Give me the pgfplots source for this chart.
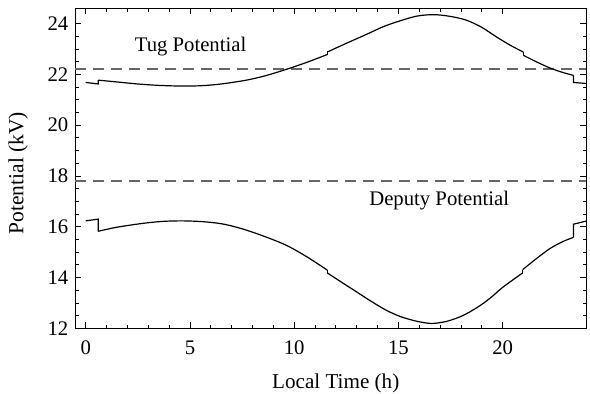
\documentclass[border=0pt]{standalone}
\usepackage{pgfplots}
\pgfplotsset{compat=1.18}
\usepackage{fontspec}
\setmainfont{Liberation Serif}
\definecolor{dashgray}{gray}{0.4}
\begin{document}
\begin{tikzpicture}
\begin{axis}[
  scale only axis, width=255.35bp, height=160bp,
  xmin=-0.5, xmax=24, ymin=12, ymax=24.6,
  xtick={0,5,10,15,20}, ytick={12,14,16,18,20,22,24},
  minor x tick num=4, minor y tick num=3,
  tick align=inside, xtick pos=both, ytick pos=both,
  xticklabel pos=lower, yticklabel pos=left,
  major tick length=3bp, minor tick length=1.7bp,
  axis line style={line width=0.5bp},
  tick style={black, line width=0.4bp},
  font=\fontsize{10.4}{12.5}\selectfont,
  /pgf/number format/assume math mode=true,
  xticklabel style={yshift=-2.8bp},
  xlabel={Local Time (h)}, ylabel={Potential (kV)},
  xlabel style={at={(axis description cs:0.51,-0.171)}, anchor=center, font=\fontsize{10.6}{12.5}\selectfont},
  ylabel style={at={(axis description cs:-0.112,0.485)}, anchor=center, font=\fontsize{10.8}{12.5}\selectfont},
  clip=false,
]
\coordinate (sw) at (rel axis cs:0,0);
\addplot[dashgray, line width=0.85bp, dash pattern=on 5.5bp off 3.5bp] coordinates {(-0.5,22.2) (24,22.2)};
\addplot[dashgray, line width=0.85bp, dash pattern=on 5.5bp off 3.5bp] coordinates {(-0.5,17.8) (24,17.8)};
% Tug
\addplot[black, line width=0.6bp, sharp plot] coordinates {(0,21.68) (0.6,21.62) (0.6,21.77)};
\addplot[black, line width=0.6bp, smooth, tension=0.5] coordinates {(0.6,21.77) (1.5,21.70) (2.5,21.62) (3.5,21.565) (4.5,21.54) (5.5,21.55) (6.5,21.62) (7.7,21.77) (8.6,21.94) (9.6,22.19) (10.6,22.47) (11.59,22.78)};
\addplot[black, line width=0.6bp, sharp plot] coordinates {(11.59,22.78) (11.59,22.88)};
\addplot[black, line width=0.6bp, smooth, tension=0.5] coordinates {(11.59,22.88) (12.5,23.22) (13.46,23.57) (14.2,23.85) (14.9,24.06) (15.87,24.29) (16.7,24.35) (17.5,24.28) (18.27,24.13) (19.0,23.85) (19.71,23.47) (20.4,23.13) (20.99,22.88)};
\addplot[black, line width=0.6bp, sharp plot] coordinates {(20.99,22.88) (20.99,22.75)};
\addplot[black, line width=0.6bp, smooth, tension=0.5] coordinates {(20.99,22.75) (21.6,22.50) (22.27,22.25) (22.9,22.07) (23.4,21.96)};
\addplot[black, line width=0.6bp, sharp plot] coordinates {(23.4,21.96) (23.4,21.68) (24,21.64)};
% Deputy
\addplot[black, line width=0.6bp, sharp plot] coordinates {(0,16.23) (0.6,16.30) (0.6,15.82)};
\addplot[black, line width=0.6bp, smooth, tension=0.5] coordinates {(0.6,15.82) (1.5,15.98) (2.72,16.13) (3.7,16.21) (4.65,16.23) (5.6,16.20) (6.41,16.13) (7.0,16.03) (7.69,15.87) (8.6,15.61) (9.62,15.27) (10.6,14.82) (11.59,14.29)};
\addplot[black, line width=0.6bp, sharp plot] coordinates {(11.59,14.29) (11.59,14.18)};
\addplot[black, line width=0.6bp, smooth, tension=0.5] coordinates {(11.59,14.18) (12.3,13.80) (13.0,13.43) (13.7,13.06) (14.42,12.71) (15.1,12.46) (15.87,12.28) (16.59,12.19) (17.3,12.27) (17.95,12.45) (18.5,12.68) (19.07,12.98) (19.55,13.29) (20.03,13.63) (20.96,14.18)};
\addplot[black, line width=0.6bp, sharp plot] coordinates {(20.96,14.18) (20.96,14.31)};
\addplot[black, line width=0.6bp, smooth, tension=0.5] coordinates {(20.96,14.31) (21.6,14.73) (22.27,15.14) (22.9,15.42) (23.4,15.58)};
\addplot[black, line width=0.6bp, sharp plot] coordinates {(23.4,15.58) (23.4,16.10) (24,16.22)};
\node[anchor=base, inner sep=0pt] at (axis cs:5.03,22.88) {Tug Potential};
\node[anchor=base, inner sep=0pt] at (axis cs:16.96,16.82) {Deputy Potential};
\end{axis}
\pgfresetboundingbox
\path[use as bounding box] ([shift={(-37.65bp,-32.85bp)}]sw) rectangle ([shift={(257.35bp,164.15bp)}]sw);
\end{tikzpicture}
\end{document}
